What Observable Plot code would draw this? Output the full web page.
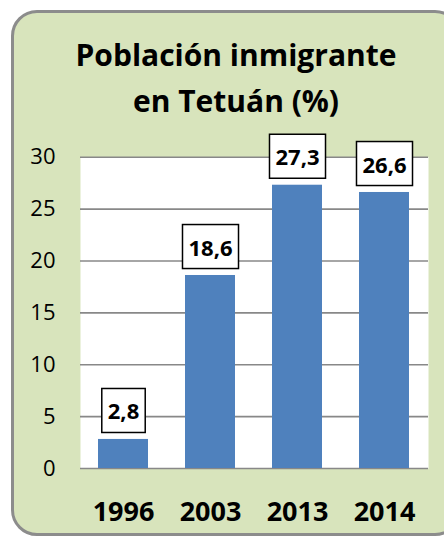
<!DOCTYPE html>
<html>
<head>
<meta charset="utf-8">
<script src="https://cdn.jsdelivr.net/npm/d3@7"></script>
<script src="https://cdn.jsdelivr.net/npm/@observablehq/plot@0.6"></script>
<style>
  html, body { margin: 0; padding: 0; background: #ffffff; }
  #wrap { position: relative; width: 444px; height: 538px; overflow: hidden; font-family: "Open Sans", sans-serif; }
  #panel { position: absolute; left: 11px; top: 10px; width: 450px; height: 526px; box-sizing: border-box;
           border: 3px solid #8c8c8c; border-radius: 26px; background: #d8e4bc; }
  #title { position: absolute; left: 0; top: 32px; width: 472px; text-align: center;
           font-weight: 700; font-size: 30px; line-height: 46px; color: #000; }
  #chart { position: absolute; left: 0; top: 130px; }
</style>
</head>
<body>
<div id="wrap">
  <div id="panel"></div>
  <div id="title">Población inmigrante<br>en Tetuán (%)</div>
  <div id="chart"></div>
</div>
<script>
const years = ["1996", "2003", "2013", "2014"];
const values = [2.8, 18.6, 27.3, 26.6];
const yTicks = [0, 5, 10, 15, 20, 25, 30];

const data = years.map((y, i) => ({year: y, value: values[i], label: values[i].toFixed(1).replace(".", ",")}));

const plot = Plot.plot({
  width: 444,
  height: 408,
  marginLeft: 80,
  marginRight: 16,
  marginTop: 26.7,
  marginBottom: 70,
  style: {background: "transparent", fontFamily: "Open Sans, sans-serif", color: "#000"},
  x: {domain: years, paddingInner: 0.425, paddingOuter: 0.2125},
  y: {domain: [0, 30]},
  marks: [
    Plot.frame({fill: "white", stroke: null}),
    Plot.gridY(yTicks, {stroke: "#888888", strokeOpacity: 1, strokeWidth: 1.6}),
    Plot.barY(data, {x: "year", y: "value", fill: "#4f81bd"}),
    Plot.text(data, {x: "year", y: "value", text: "label", dy: -27, lineAnchor: "middle",
      fontSize: 22, fontWeight: 700, fill: "#000", className: "vlabels"}),
    Plot.axisY({ticks: yTicks, tickSize: 0, tickPadding: 25, fontSize: 22, label: null}),
    Plot.axisX({tickSize: 0, tickPadding: 33, fontSize: 27, fontWeight: 700, label: null})
  ]
});

document.getElementById("chart").appendChild(plot);

// add white boxes with black borders behind value labels
const padX = 6, padY = 7;
plot.querySelectorAll("g.vlabels text").forEach(t => {
  const b = t.getBBox();
  const r = document.createElementNS("http://www.w3.org/2000/svg", "rect");
  r.setAttribute("x", b.x - padX);
  r.setAttribute("y", b.y - padY);
  r.setAttribute("width", b.width + 2 * padX);
  r.setAttribute("height", b.height + 2 * padY);
  r.setAttribute("fill", "white");
  r.setAttribute("stroke", "black");
  r.setAttribute("stroke-width", 1.5);
  const tr = t.getAttribute("transform");
  if (tr) r.setAttribute("transform", tr);
  t.parentNode.insertBefore(r, t);
});
</script>
</body>
</html>
